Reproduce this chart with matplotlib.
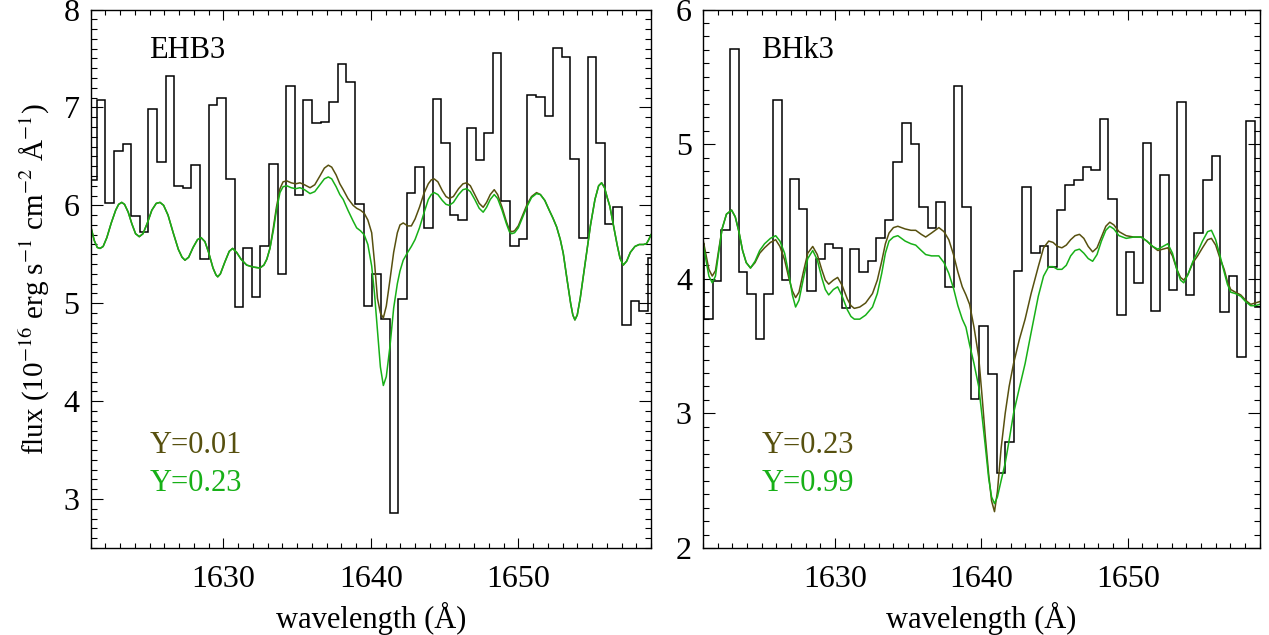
import numpy as np
import matplotlib
matplotlib.use('Agg')
from matplotlib import pyplot as plt
from matplotlib.ticker import MultipleLocator

plt.rcParams['font.family'] = ['Liberation Serif', 'DejaVu Serif']
plt.rcParams['mathtext.fontset'] = 'stix'

OLIVE = '#57500f'
GREEN = '#17b017'

# observed spectra: flux per wavelength bin (uniform bins)
ehb_bin_start = 1620.83
ehb_bin_width = 0.584
ehb_flux = [6.26, 7.08, 6.02, 6.55, 6.63, 5.89, 5.73, 6.98, 6.44, 7.32,
            6.20, 6.18, 6.41, 5.45, 7.02, 7.10, 6.27, 4.96, 5.56, 5.06,
            5.58, 6.42, 5.30, 7.22, 6.11, 7.08, 6.84, 6.85, 7.06, 7.44,
            7.26, 6.01, 4.97, 5.30, 4.84, 2.86, 5.04, 6.13, 6.39, 5.77,
            7.09, 6.64, 5.90, 5.85, 6.79, 6.46, 6.74, 7.56, 6.04, 5.58,
            5.66, 7.13, 7.11, 6.91, 7.61, 7.51, 6.47, 5.67, 7.51, 6.64,
            5.81, 5.98, 4.78, 5.02, 4.92, 5.46]

bhk_bin_start = 1620.50
bhk_bin_width = 0.587
bhk_flux = [4.26, 3.70, 3.98, 4.36, 5.71, 4.05, 3.89, 3.55, 3.89, 5.33,
            3.99, 4.74, 4.52, 3.91, 4.15, 4.26, 4.23, 3.78, 4.22, 4.05,
            4.13, 4.30, 4.44, 4.87, 5.16, 5.00, 4.53, 4.38, 4.57, 3.94,
            5.43, 4.53, 3.11, 3.65, 3.29, 2.56, 2.79, 4.06, 4.68, 4.19,
            4.24, 4.09, 4.51, 4.70, 4.73, 4.83, 4.81, 5.19, 4.59, 3.73,
            4.20, 3.97, 5.01, 3.76, 4.77, 3.92, 5.31, 3.88, 4.34, 4.73,
            4.91, 3.75, 4.02, 3.42, 5.17, 3.79]

# synthetic spectra, EHB3 (Y=0.01 and Y=0.23)
ehb_wl = [1621.0, 1621.25, 1621.45, 1621.64, 1621.85, 1622.1, 1622.4, 1622.7, 1622.9, 1623.11,
          1623.3, 1623.55, 1623.8, 1624.05, 1624.3, 1624.55, 1624.85, 1625.15, 1625.45, 1625.71,
          1625.95, 1626.25, 1626.6, 1626.95, 1627.2, 1627.4, 1627.65, 1627.95, 1628.25, 1628.49,
          1628.75, 1629.0, 1629.3, 1629.5, 1629.62, 1629.8, 1630.1, 1630.4, 1630.63, 1630.9,
          1631.2, 1631.58, 1632.0, 1632.48, 1632.75, 1632.95, 1633.16, 1633.4, 1633.6, 1633.84,
          1634.05, 1634.3, 1634.6, 1634.9, 1635.2, 1635.5, 1635.88, 1636.2, 1636.55, 1636.85,
          1637.12, 1637.35, 1637.65, 1637.9, 1638.13, 1638.45, 1638.8, 1639.04, 1639.3, 1639.55,
          1639.8, 1640.06, 1640.25, 1640.45, 1640.65, 1640.85, 1641.05, 1641.3, 1641.55, 1641.8,
          1641.98, 1642.2, 1642.5, 1642.75, 1643.0, 1643.3, 1643.6, 1643.9, 1644.1, 1644.3,
          1644.55, 1644.85, 1645.1, 1645.32, 1645.6, 1645.95, 1646.25, 1646.5, 1646.75, 1647.05,
          1647.35, 1647.62, 1647.85, 1648.1, 1648.37, 1648.6, 1648.9, 1649.2, 1649.4, 1649.55,
          1649.75, 1650.0, 1650.3, 1650.6, 1650.9, 1651.24, 1651.5, 1651.8, 1652.1, 1652.35,
          1652.6, 1652.85, 1653.05, 1653.3, 1653.55, 1653.7, 1653.84, 1654.0, 1654.2, 1654.45,
          1654.63, 1654.9, 1655.2, 1655.45, 1655.65, 1655.85, 1656.05, 1656.21, 1656.45, 1656.7,
          1656.9, 1657.12, 1657.35, 1657.6, 1657.91, 1658.2, 1658.5, 1658.7, 1658.85, 1659.0]
ehb_y001 = [5.79, 5.64, 5.57, 5.56, 5.58, 5.67, 5.82, 5.95, 6.01, 6.03,
            6.01, 5.93, 5.81, 5.71, 5.68, 5.71, 5.82, 5.95, 6.02, 6.03,
            6.00, 5.90, 5.72, 5.55, 5.47, 5.44, 5.47, 5.57, 5.65, 5.67,
            5.63, 5.52, 5.36, 5.29, 5.27, 5.30, 5.42, 5.53, 5.56, 5.52,
            5.45, 5.39, 5.37, 5.36, 5.39, 5.45, 5.56, 5.78, 5.98, 6.17,
            6.24, 6.25, 6.23, 6.22, 6.23, 6.21, 6.18, 6.21, 6.30, 6.38,
            6.41, 6.39, 6.31, 6.22, 6.16, 6.07, 6.00, 5.97, 5.95, 5.92,
            5.85, 5.72, 5.42, 5.05, 4.90, 4.85, 4.97, 5.24, 5.52, 5.72,
            5.80, 5.82, 5.79, 5.79, 5.86, 5.98, 6.12, 6.22, 6.26, 6.27,
            6.24, 6.15, 6.09, 6.07, 6.09, 6.17, 6.22, 6.23, 6.20, 6.11,
            6.02, 5.98, 6.03, 6.11, 6.16, 6.11, 5.98, 5.83, 5.75, 5.73,
            5.74, 5.79, 5.90, 6.01, 6.09, 6.13, 6.11, 6.05, 5.95, 5.87,
            5.78, 5.65, 5.51, 5.25, 5.00, 4.88, 4.83, 4.88, 5.05, 5.32,
            5.51, 5.80, 6.06, 6.20, 6.23, 6.18, 6.07, 5.99, 5.80, 5.60,
            5.46, 5.39, 5.43, 5.52, 5.58, 5.60, 5.60, 5.61, 5.65, 5.70]
ehb_y023 = [5.79, 5.64, 5.57, 5.56, 5.58, 5.67, 5.82, 5.95, 6.01, 6.03,
            6.01, 5.93, 5.81, 5.71, 5.68, 5.71, 5.82, 5.95, 6.02, 6.03,
            6.00, 5.90, 5.72, 5.55, 5.47, 5.44, 5.47, 5.57, 5.65, 5.67,
            5.63, 5.52, 5.36, 5.29, 5.27, 5.30, 5.42, 5.53, 5.56, 5.52,
            5.45, 5.39, 5.37, 5.36, 5.39, 5.45, 5.56, 5.75, 5.95, 6.13,
            6.19, 6.20, 6.18, 6.17, 6.18, 6.16, 6.12, 6.14, 6.21, 6.27,
            6.29, 6.27, 6.19, 6.11, 6.06, 5.95, 5.84, 5.77, 5.74, 5.70,
            5.60, 5.38, 5.10, 4.72, 4.35, 4.16, 4.25, 4.56, 4.95, 5.20,
            5.33, 5.44, 5.52, 5.58, 5.65, 5.77, 5.92, 6.06, 6.11, 6.13,
            6.11, 6.05, 6.01, 6.00, 6.03, 6.11, 6.16, 6.17, 6.14, 6.06,
            5.97, 5.93, 5.98, 6.06, 6.11, 6.07, 5.95, 5.81, 5.73, 5.71,
            5.72, 5.77, 5.88, 5.99, 6.08, 6.12, 6.11, 6.05, 5.95, 5.87,
            5.78, 5.65, 5.51, 5.25, 5.00, 4.88, 4.83, 4.88, 5.05, 5.32,
            5.51, 5.80, 6.06, 6.20, 6.23, 6.18, 6.07, 5.99, 5.80, 5.60,
            5.46, 5.39, 5.43, 5.52, 5.58, 5.60, 5.60, 5.61, 5.65, 5.70]

# synthetic spectra, BHk3 (Y=0.23 and Y=0.99)
bhk_wl = [1621.0, 1621.2, 1621.4, 1621.63, 1621.85, 1622.05, 1622.3, 1622.6, 1622.95, 1623.2,
          1623.45, 1623.7, 1623.95, 1624.24, 1624.55, 1624.87, 1625.2, 1625.6, 1625.96, 1626.25,
          1626.57, 1626.85, 1627.1, 1627.32, 1627.55, 1627.85, 1628.15, 1628.49, 1628.8, 1629.1,
          1629.35, 1629.58, 1629.9, 1630.19, 1630.5, 1630.85, 1631.1, 1631.33, 1631.7, 1632.1,
          1632.57, 1632.9, 1633.2, 1633.45, 1633.7, 1634.0, 1634.3, 1634.8, 1635.2, 1635.52,
          1635.9, 1636.2, 1636.6, 1637.1, 1637.45, 1637.78, 1638.1, 1638.4, 1638.7, 1638.95,
          1639.2, 1639.5, 1639.82, 1640.05, 1640.27, 1640.5, 1640.7, 1640.9, 1641.1, 1641.35,
          1641.63, 1641.9, 1642.2, 1642.6, 1642.99, 1643.4, 1643.89, 1644.25, 1644.6, 1644.9,
          1645.2, 1645.5, 1645.8, 1646.1, 1646.4, 1646.7, 1647.0, 1647.3, 1647.6, 1647.9,
          1648.2, 1648.5, 1648.77, 1649.05, 1649.4, 1649.89, 1650.4, 1650.91, 1651.3, 1651.7,
          1652.05, 1652.4, 1652.73, 1653.05, 1653.35, 1653.6, 1653.82, 1654.1, 1654.45, 1654.77,
          1655.1, 1655.45, 1655.71, 1656.0, 1656.3, 1656.58, 1656.8, 1657.03, 1657.35, 1657.71,
          1658.05, 1658.39, 1658.7, 1659.0]
bhk_y023 = [4.29, 4.18, 4.07, 4.02, 4.06, 4.20, 4.37, 4.48, 4.51, 4.46,
            4.35, 4.21, 4.12, 4.08, 4.12, 4.19, 4.23, 4.27, 4.29, 4.24,
            4.14, 4.01, 3.91, 3.86, 3.90, 4.05, 4.19, 4.24, 4.18, 4.07,
            3.99, 3.96, 3.99, 4.01, 3.95, 3.85, 3.80, 3.78, 3.79, 3.82,
            3.89, 3.99, 4.13, 4.26, 4.34, 4.38, 4.39, 4.37, 4.36, 4.36,
            4.33, 4.31, 4.34, 4.38, 4.35, 4.29, 4.18, 4.05, 3.94, 3.88,
            3.81, 3.64, 3.42, 3.13, 2.83, 2.55, 2.35, 2.27, 2.42, 2.74,
            3.00, 3.20, 3.37, 3.55, 3.70, 3.89, 4.09, 4.23, 4.28, 4.27,
            4.24, 4.23, 4.25, 4.29, 4.32, 4.33, 4.30, 4.24, 4.20, 4.23,
            4.31, 4.39, 4.42, 4.40, 4.35, 4.32, 4.31, 4.31, 4.28, 4.24,
            4.21, 4.22, 4.23, 4.17, 4.07, 4.01, 3.99, 4.03, 4.12, 4.17,
            4.23, 4.29, 4.30, 4.25, 4.15, 4.07, 3.98, 3.92, 3.90, 3.88,
            3.84, 3.81, 3.82, 3.83]
bhk_y099 = [4.26, 4.14, 4.02, 3.97, 4.02, 4.18, 4.37, 4.48, 4.51, 4.46,
            4.35, 4.21, 4.12, 4.08, 4.13, 4.21, 4.26, 4.30, 4.32, 4.28,
            4.19, 4.04, 3.88, 3.79, 3.84, 4.00, 4.15, 4.21, 4.14, 4.01,
            3.92, 3.88, 3.92, 3.94, 3.87, 3.77, 3.72, 3.70, 3.70, 3.73,
            3.79, 3.89, 4.04, 4.19, 4.28, 4.31, 4.32, 4.28, 4.26, 4.25,
            4.21, 4.18, 4.17, 4.17, 4.12, 4.04, 3.93, 3.80, 3.70, 3.64,
            3.51, 3.37, 3.20, 2.98, 2.76, 2.52, 2.38, 2.33, 2.38, 2.50,
            2.63, 2.80, 3.00, 3.19, 3.37, 3.60, 3.87, 4.02, 4.09, 4.09,
            4.07, 4.07, 4.10, 4.17, 4.21, 4.22, 4.19, 4.15, 4.13, 4.18,
            4.28, 4.36, 4.39, 4.37, 4.32, 4.30, 4.31, 4.31, 4.28, 4.24,
            4.22, 4.24, 4.26, 4.19, 4.07, 3.99, 3.97, 4.03, 4.13, 4.20,
            4.28, 4.35, 4.36, 4.29, 4.17, 4.05, 3.96, 3.90, 3.89, 3.87,
            3.83, 3.80, 3.80, 3.81]

FS = 22

fig = plt.figure(figsize=(12.69, 6.35), dpi=100)
ax_l = fig.add_axes([0.0714, 0.137, 0.4416, 0.848])
ax_r = fig.add_axes([0.5540, 0.137, 0.4386, 0.848])


def style(ax, ylo, yhi):
	ax.set_xlim(1621, 1659)
	ax.set_ylim(ylo, yhi)
	ax.xaxis.set_major_locator(MultipleLocator(10))
	ax.xaxis.set_minor_locator(MultipleLocator(1))
	ax.yaxis.set_major_locator(MultipleLocator(1))
	ax.yaxis.set_minor_locator(MultipleLocator(0.1))
	ax.tick_params(which='both', direction='in', top=True, right=True,
				   labelsize=FS + 1, width=0.8)
	ax.tick_params(axis='x', which='major', length=7.5, pad=12)
	ax.tick_params(axis='x', which='minor', length=3.5)
	ax.tick_params(axis='y', which='major', length=8.5, pad=8)
	ax.tick_params(axis='y', which='minor', length=4.3)
	for s in ax.spines.values():
		s.set_linewidth(1.0)
	ax.set_xlabel('wavelength (Å)', fontsize=FS, va='center')
	ax.xaxis.set_label_coords(0.5, -0.13)


def draw(ax, start, width, flux, wl, models, name, labels):
	edges = start + width * np.arange(len(flux) + 1)
	ax.stairs(flux, edges, color='black', linewidth=1.1)
	for y, c in models:
		ax.plot(wl, y, color=c, linewidth=1.1)
	ax.text(0.104, 0.91, name, transform=ax.transAxes, fontsize=FS,
			ha='left', va='baseline')
	for (txt, c), yy in zip(labels, [0.177, 0.105]):
		ax.text(0.106, yy, txt, transform=ax.transAxes, fontsize=FS,
				color=c, ha='left', va='baseline')


style(ax_l, 2.5, 8.0)
style(ax_r, 2.0, 6.0)

draw(ax_l, ehb_bin_start, ehb_bin_width, ehb_flux, ehb_wl,
	 [(ehb_y001, OLIVE), (ehb_y023, GREEN)],
	 'EHB3', [('Y=0.01', OLIVE), ('Y=0.23', GREEN)])
draw(ax_r, bhk_bin_start, bhk_bin_width, bhk_flux, bhk_wl,
	 [(bhk_y023, OLIVE), (bhk_y099, GREEN)],
	 'BHk3', [('Y=0.23', OLIVE), ('Y=0.99', GREEN)])

ax_l.set_ylabel(r'flux (10$^{-16}$ erg s$^{-1}$ cm$^{-2}$ Å$^{-1}$)',
				fontsize=FS - 1, va='center')
ax_l.yaxis.set_label_coords(-0.099, 0.5)

for ax in (ax_l, ax_r):
	ax.get_yticklabels()[-1].set_va('top')

fig.savefig('out.png', dpi=100)
